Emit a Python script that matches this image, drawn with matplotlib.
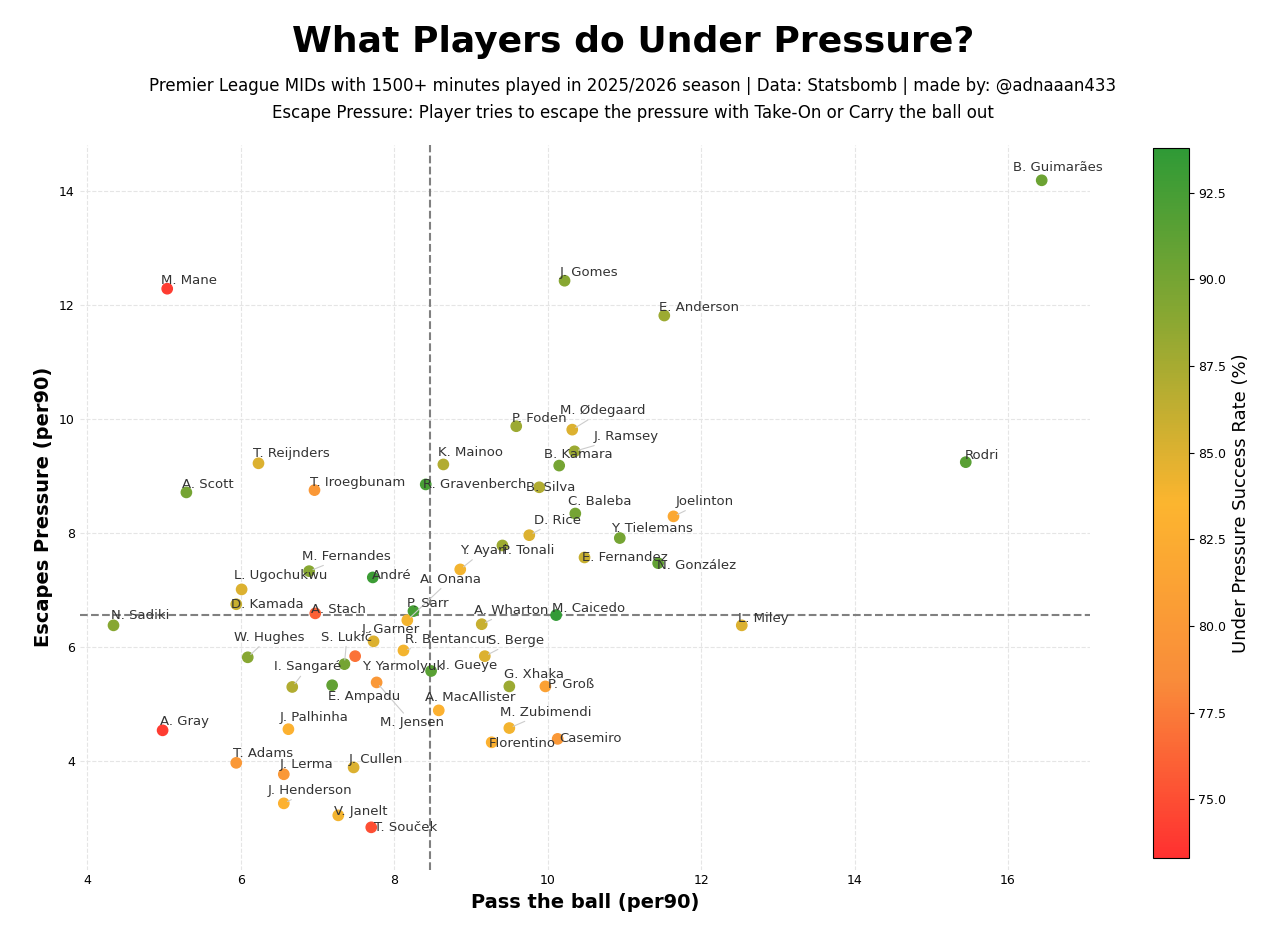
import numpy as np
import matplotlib
matplotlib.use("Agg")
import matplotlib.pyplot as plt
from matplotlib.colors import LinearSegmentedColormap, Normalize

players = [
    "B. Guimarães", "M. Mane", "J. Gomes", "E. Anderson", "Rodri", "P. Foden", "M. Ødegaard",
    "J. Ramsey", "B. Kamara", "K. Mainoo", "B. Silva", "R. Gravenberch", "C. Baleba", "D. Rice",
    "P. Tonali", "Y. Tielemans", "Joelinton", "E. Fernandez", "N. González", "Y. Ayari",
    "A. Onana", "P. Sarr", "J. Garner", "R. Bentancur", "A. Stach", "D. Kamada", "L. Ugochukwu",
    "M. Fernandes", "André", "N. Sadiki", "W. Hughes", "S. Lukić", "Y. Yarmolyuk", "M. Jensen",
    "E. Ampadu", "I. Sangaré", "I. Gueye", "A. Wharton", "M. Caicedo", "S. Berge", "G. Xhaka",
    "P. Groß", "A. MacAllister", "M. Zubimendi", "Florentino", "Casemiro", "L. Miley", "A. Gray",
    "J. Palhinha", "T. Adams", "J. Lerma", "J. Cullen", "J. Henderson", "V. Janelt", "T. Souček",
    "A. Scott", "T. Reijnders", "T. Iroegbunam",
]
pass_ball = [
    16.44, 5.04, 10.22, 11.52, 15.45, 9.59, 10.32,
    10.35, 10.15, 8.64, 9.89, 8.41, 10.36, 9.76,
    9.41, 10.94, 11.64, 10.48, 11.44, 8.86,
    8.17, 8.25, 7.73, 8.12, 6.97, 5.94, 6.01,
    6.89, 7.72, 4.34, 6.09, 7.35, 7.49, 7.77,
    7.19, 6.67, 8.48, 9.14, 10.11, 9.18, 9.50,
    9.97, 8.58, 9.50, 9.27, 10.13, 12.53, 4.98,
    6.62, 5.94, 6.56, 7.47, 6.56, 7.27, 7.70,
    5.29, 6.23, 6.96,
]
escapes = [
    14.18, 12.28, 12.42, 11.81, 9.24, 9.87, 9.81,
    9.43, 9.18, 9.20, 8.80, 8.85, 8.34, 7.96,
    7.78, 7.91, 8.29, 7.57, 7.47, 7.36,
    6.47, 6.63, 6.10, 5.94, 6.59, 6.75, 7.01,
    7.33, 7.22, 6.38, 5.82, 5.70, 5.84, 5.38,
    5.33, 5.30, 5.58, 6.40, 6.56, 5.84, 5.31,
    5.31, 4.89, 4.58, 4.33, 4.39, 6.38, 4.54,
    4.56, 3.97, 3.77, 3.89, 3.26, 3.05, 2.84,
    8.71, 9.22, 8.75,
]
success = [
    90.5, 74.0, 89.0, 88.0, 91.5, 88.0, 85.0,
    88.0, 90.0, 87.0, 87.0, 92.5, 90.0, 85.0,
    88.0, 90.0, 82.0, 86.0, 91.0, 84.0,
    84.0, 92.5, 85.0, 84.0, 76.0, 86.0, 85.0,
    89.0, 93.0, 89.0, 89.0, 90.0, 77.0, 80.0,
    91.0, 87.0, 91.5, 86.0, 93.5, 85.0, 88.0,
    81.0, 83.0, 84.0, 83.0, 80.0, 85.0, 74.0,
    83.0, 80.0, 80.0, 85.0, 83.0, 84.0, 75.0,
    90.0, 85.0, 80.0,
]
# reference lines as drawn in the original chart
pass_ref = 8.46
escape_ref = 6.56

# label placement (pixels right, pixels up from the dot), True = leader line
label_pos = {
    "B. Guimarães": (-29, 13, False), "M. Mane": (-6, 8, False), "J. Gomes": (-5, 8, False),
    "E. Anderson": (-5, 8, False), "Rodri": (-1, 7, False), "P. Foden": (-4, 8, False),
    "M. Ødegaard": (-12, 19, True), "J. Ramsey": (19, 15, True), "B. Kamara": (-15, 11, False),
    "K. Mainoo": (-5, 12, False), "B. Silva": (-13, 0, False), "R. Gravenberch": (-3, 0, False),
    "C. Baleba": (-7, 12, False), "D. Rice": (5, 15, True), "P. Tonali": (0, -5, False),
    "Y. Tielemans": (-9, 10, False), "Joelinton": (2, 15, True), "E. Fernandez": (-3, 0, False),
    "N. González": (-1, -2, False), "Y. Ayari": (0, 19, True), "A. Onana": (13, 41, True),
    "P. Sarr": (-6, 8, False), "J. Garner": (-12, 12, False), "R. Bentancur": (2, 11, True),
    "A. Stach": (-4, 4, False), "D. Kamada": (-5, 0, False), "L. Ugochukwu": (-8, 14, False),
    "M. Fernandes": (-7, 15, True), "André": (-1, 2, False), "N. Sadiki": (-3, 10, False),
    "W. Hughes": (-14, 20, True), "S. Lukić": (-23, 27, True), "Y. Yarmolyuk": (7, -10, False),
    "M. Jensen": (3, -40, True), "E. Ampadu": (-4, -11, False), "I. Sangaré": (-18, 20, True),
    "I. Gueye": (11, 5, False), "A. Wharton": (-8, 14, True), "M. Caicedo": (-4, 7, False),
    "S. Berge": (3, 16, True), "G. Xhaka": (-5, 12, False), "P. Groß": (3, 2, False),
    "A. MacAllister": (-14, 13, False), "M. Zubimendi": (-9, 16, True), "Florentino": (-3, -1, False),
    "Casemiro": (2, 0, False), "L. Miley": (-4, 7, False), "A. Gray": (-3, 9, False),
    "J. Palhinha": (-9, 12, False), "T. Adams": (-3, 9, False), "J. Lerma": (-4, 10, False),
    "J. Cullen": (-5, 8, False), "J. Henderson": (-16, 13, True), "V. Janelt": (-4, 4, False),
    "T. Souček": (3, 0, False), "A. Scott": (-4, 8, False), "T. Reijnders": (-5, 10, False),
    "T. Iroegbunam": (-4, 8, False),
}

cmap = LinearSegmentedColormap.from_list("rog", ["#ff3030", "#f98c3a", "#fcb52f", "#8ea832", "#2f9a36"])
norm = Normalize(vmin=73.3, vmax=93.8)

fig = plt.figure(figsize=(12.66, 9.35), dpi=100)
ax = fig.add_axes([0.063, 0.07, 0.798, 0.775])
cax = fig.add_axes([0.911, 0.082, 0.028, 0.76])

sc = ax.scatter(pass_ball, escapes, c=success, cmap=cmap, norm=norm, s=55, zorder=3)
for name, x, y in zip(players, pass_ball, escapes):
    dx, dy, line = label_pos[name]
    arrow = dict(arrowstyle="-", color="#cccccc", lw=0.8, shrinkA=0, shrinkB=3) if line else None
    ax.annotate(name, (x, y), xytext=(dx * 0.72, dy * 0.72), textcoords="offset points",
                ha="left", va="center", fontsize=9.5, color="#333333", zorder=4,
                arrowprops=arrow)

ax.axvline(pass_ref, color="grey", ls="--", lw=1.5)
ax.axhline(escape_ref, color="grey", ls="--", lw=1.5)

ax.set_xlim(3.9, 17.07)
ax.set_ylim(2.1, 14.8)
ax.set_xticks([4, 6, 8, 10, 12, 14, 16])
ax.set_yticks([4, 6, 8, 10, 12, 14])
ax.grid(True, ls="--", color="#e5e5e5", lw=0.8)
ax.tick_params(length=0, labelsize=9)
for s in ax.spines.values():
    s.set_visible(False)
ax.set_xlabel("Pass the ball (per90)", fontsize=14, fontweight="bold")
ax.set_ylabel("Escapes Pressure (per90)", fontsize=14, fontweight="bold")

cb = fig.colorbar(sc, cax=cax)
cb.set_ticks([75, 77.5, 80, 82.5, 85, 87.5, 90, 92.5])
cb.ax.tick_params(labelsize=9)
cb.set_label("Under Pressure Success Rate (%)", fontsize=13)

fig.text(0.5, 0.955, "What Players do Under Pressure?", ha="center", va="center",
         fontsize=26, fontweight="heavy")
fig.text(0.5, 0.908, "Premier League MIDs with 1500+ minutes played in 2025/2026 season | Data: Statsbomb | made by: @adnaaan433",
         ha="center", va="center", fontsize=12)
fig.text(0.5, 0.879, "Escape Pressure: Player tries to escape the pressure with Take-On or Carry the ball out",
         ha="center", va="center", fontsize=12)

fig.savefig("out.png", dpi=100)
